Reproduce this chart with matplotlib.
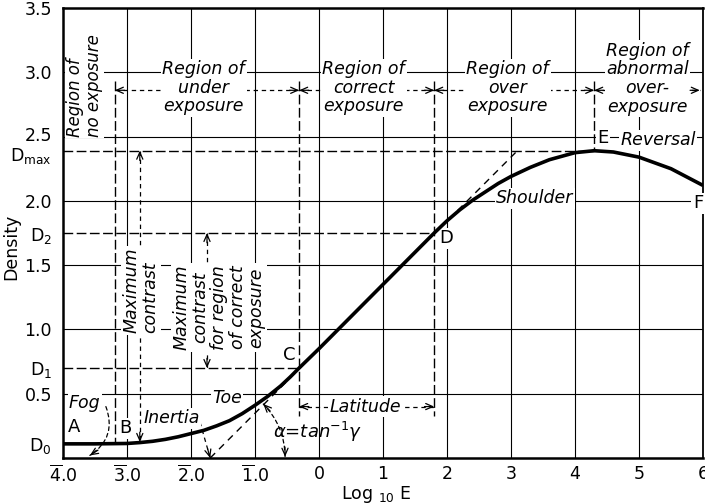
import numpy as np
import matplotlib.pyplot as plt
from matplotlib.transforms import ScaledTranslation

# karakteristik egri
log_e = [-4.0, -3.5, -3.0, -2.8, -2.6, -2.4, -2.2, -2.0, -1.8, -1.6, -1.4, -1.2,
         -1.0, -0.8, -0.6, -0.45, -0.31, 0.0, 0.5, 1.0, 1.5, 1.8, 2.0, 2.2, 2.4,
         2.6, 2.8, 3.0, 3.3, 3.6, 4.0, 4.3, 4.6, 5.0, 5.5, 6.0]
density = [0.11, 0.11, 0.113, 0.12, 0.13, 0.145, 0.165, 0.19, 0.215, 0.25, 0.29, 0.345,
           0.41, 0.48, 0.56, 0.63, 0.70, 0.85, 1.10, 1.35, 1.60, 1.75, 1.845, 1.93, 2.005,
           2.07, 2.135, 2.19, 2.26, 2.32, 2.375, 2.39, 2.38, 2.34, 2.25, 2.12]

# tegetin uzantisi (inertia -> Dmax)
tangent_x = [-1.7, 3.1]
tangent_y = [0.0, 2.39]

# ozel yogunluk ve pozlama degerleri
d0, d1, d2, dmax = 0.11, 0.70, 1.75, 2.39
x_b, x_c, x_d, x_e = -3.19, -0.31, 1.8, 4.3

ytick_vals = [d0, 0.5, d1, 1.0, 1.5, d2, 2.0, dmax, 2.5, 3.0, 3.5]
ytick_labels = [r"D$_0$", "0.5", r"D$_1$", "1.0", "1.5", r"D$_2$", "2.0",
                r"D$_\mathrm{max}$", "2.5", "3.0", "3.5"]
xtick_vals = [-4, -3, -2, -1, 0, 1, 2, 3, 4, 5, 6]
xtick_labels = [r"$\overline{4}$.0", r"$\overline{3}$.0", r"$\overline{2}$.0",
                r"$\overline{1}$.0", "0", "1", "2", "3", "4", "5", "6"]

FS = 12.5
BOX = dict(facecolor='white', edgecolor='none', pad=1.0)

fig = plt.figure(figsize=(7.05, 5.04), dpi=100)
ax = fig.add_axes([63 / 705, 46 / 504, 640 / 705, 450 / 504])
ax.set_xlim(-4, 6)
ax.set_ylim(0, 3.5)

ax.set_xticks(xtick_vals)
ax.set_xticklabels(xtick_labels)
ax.set_yticks(ytick_vals)
ax.set_yticklabels(ytick_labels)
ax.tick_params(length=0, labelsize=FS)
ax.tick_params(axis='y', pad=8)
ax.tick_params(axis='x', pad=5)
for s in ax.spines.values():
    s.set_linewidth(1.8)
ax.spines['right'].set_linewidth(1.3)

# 2.5 ve Dmax etiketlerini biraz ayir
for lab in ax.get_yticklabels():
    if lab.get_text() == "2.5":
        lab.set_transform(lab.get_transform() + ScaledTranslation(0, 2 / 72, fig.dpi_scale_trans))
    elif "max" in lab.get_text():
        lab.set_transform(lab.get_transform() + ScaledTranslation(0, -2 / 72, fig.dpi_scale_trans))

# izgara (sadece tam sayi / 0.5 cizgileri)
for gx in range(-3, 6):
    ax.axvline(gx, color='k', lw=0.8, zorder=0.5)
for gy in [0.5, 1.0, 1.5, 2.0, 2.5, 3.0]:
    ax.axhline(gy, color='k', lw=0.8, zorder=0.5)

ax.set_xlabel(r"Log $_{10}$ E", fontsize=FS)
ax.xaxis.set_label_coords(0.49, -0.058)
ax.set_ylabel("Density", fontsize=FS)
ax.yaxis.set_label_coords(-0.067, 0.47)

long_dash = (0, (7, 2.5))

# yatay kesikli cizgiler
ax.plot([-4, x_e], [dmax, dmax], color='k', lw=1, ls=long_dash, zorder=2)
ax.plot([-4, x_d], [d2, d2], color='k', lw=1, ls=long_dash, zorder=2)
ax.plot([-4, x_c], [d1, d1], color='k', lw=1, ls=long_dash, zorder=2)
# dikey sinir cizgileri
ax.plot([x_b, x_b], [2.93, d0], color='k', lw=1, ls=long_dash, zorder=2)
ax.plot([x_c, x_c], [2.93, 0.33], color='k', lw=1, ls=long_dash, zorder=2)
ax.plot([x_d, x_d], [2.93, 0.33], color='k', lw=1, ls=long_dash, zorder=2)
ax.plot([x_e, x_e], [2.93, dmax], color='k', lw=1, ls=long_dash, zorder=2)

# teget
ax.plot(tangent_x, tangent_y, color='k', lw=1, ls=(0, (5, 4)), zorder=2)

# egri
ax.plot(log_e, density, color='k', lw=2.6, solid_capstyle='butt', zorder=6)


def head(x, y, ux, uy):
    # (ux, uy): ekran koordinatinda ok yonu (birim)
    ax.annotate('', xy=(x, y), xytext=(-ux * 7, -uy * 7), textcoords='offset points',
                arrowprops=dict(arrowstyle='->,head_length=0.5,head_width=0.22',
                                lw=0.9, color='k', shrinkA=0, shrinkB=0), zorder=4)


def arrow(x0, y0, x1, y1, both=True, ls=(0, (3.5, 3))):
    ax.plot([x0, x1], [y0, y1], color='k', lw=0.9, ls=ls, zorder=2)
    p0 = ax.transData.transform((x0, y0))
    p1 = ax.transData.transform((x1, y1))
    u = (p1 - p0) / np.hypot(*(p1 - p0))
    head(x1, y1, u[0], u[1])
    if both:
        head(x0, y0, -u[0], -u[1])


def arc_arrow(x0, y0, x1, y1, rad, both=False):
    ax.annotate('', xy=(x1, y1), xytext=(x0, y0),
                arrowprops=dict(arrowstyle='-', lw=0.9, ls=(0, (3, 2.5)), color='k',
                                connectionstyle=f'arc3,rad={rad}', shrinkA=0, shrinkB=0),
                zorder=4)
    p0 = ax.transData.transform((x0, y0))
    p1 = ax.transData.transform((x1, y1))
    d = p1 - p0
    c = (p0 + p1) / 2 + rad * np.array([d[1], -d[0]])
    u1 = (p1 - c) / np.hypot(*(p1 - c))
    head(x1, y1, u1[0], u1[1])
    if both:
        u0 = (p0 - c) / np.hypot(*(p0 - c))
        head(x0, y0, u0[0], u0[1])


# bolge oklari
y_reg = 2.86
arrow(x_b, y_reg, x_c, y_reg)
arrow(x_c, y_reg, x_d, y_reg)
arrow(x_d, y_reg, x_e, y_reg)
arrow(x_e, y_reg, 5.95, y_reg)

# kontrast oklari
arrow(-2.8, dmax, -2.8, 0.125)
arrow(-1.75, d2, -1.75, d1)
# latitude
arrow(x_c, 0.40, x_d, 0.40)
# inertia
arrow(-1.86, 0.28, -1.70, 0.0, both=False)
# fog ve alfa
arc_arrow(-3.33, 0.40, -3.58, 0.02, rad=-0.4)
arc_arrow(-0.53, 0.01, -0.87, 0.42, rad=0.2, both=True)

txt = dict(fontsize=FS, style='italic', ha='center', va='center', bbox=BOX,
           zorder=3, linespacing=1.05)

ax.text(-3.66, 2.50, "Region of\nno exposure", rotation=90, ha='center', va='bottom',
        multialignment='left', fontsize=12, style='italic', bbox=BOX, zorder=3,
        linespacing=1.05)
ax.text(-1.8, 2.88, "Region of\nunder\nexposure", **txt)
ax.text(0.70, 2.88, "Region of\ncorrect\nexposure", **txt)
ax.text(2.95, 2.88, "Region of\nover\nexposure", **txt)
ax.text(5.13, 2.95, "Region of\nabnormal\nover-\nexposure", **txt)

ax.text(-2.78, 0.97, "Maximum\ncontrast", rotation=90, ha='center', va='bottom',
        multialignment='left', fontsize=FS, style='italic', bbox=BOX, zorder=3,
        linespacing=1.05)
ax.text(-1.56, 1.17, "Maximum\ncontrast\nfor region\nof correct\nexposure",
        rotation=90, **txt)

ax.text(-3.66, 0.43, "Fog", **txt)
ax.text(-1.44, 0.47, "Toe", **txt)
ax.text(-2.30, 0.31, "Inertia", **txt)
ax.text(0.72, 0.40, "Latitude", **txt)
ax.text(3.37, 2.02, "Shoulder", **txt)
ax.text(5.30, 2.47, "Reversal", **txt)
ax.text(-0.03, 0.20, r"$\alpha$=tan$^{-1}\gamma$", fontsize=FS + 0.5, style='italic',
        ha='center', va='center', zorder=3)

pts = dict(fontsize=FS + 0.5, ha='center', va='center', bbox=BOX, zorder=3)
ax.text(-3.83, 0.24, "A", **pts)
ax.text(-3.03, 0.23, "B", **pts)
ax.text(-0.47, 0.80, "C", **pts)
ax.text(1.99, 1.71, "D", **pts)
ax.text(4.44, 2.49, "E", **pts)
ax.text(5.92, 1.98, "F", **pts)

fig.savefig("out.png", dpi=100)
